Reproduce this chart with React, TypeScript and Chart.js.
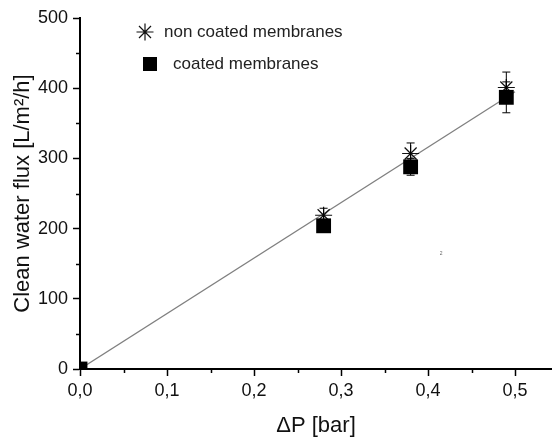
import React, { useEffect, useRef } from 'react';
import { Chart, registerables } from 'chart.js';
Chart.register(...registerables);

// Data (ΔP in bar, flux in L/m²/h)
const nonCoatedPressure = [0.28, 0.38, 0.49];
const nonCoatedFlux = [219, 307, 401];
const nonCoatedErr = [10, 15, 22];

const coatedPressure = [0, 0.28, 0.38, 0.49];
const coatedFlux = [0, 204, 288, 387];
const coatedErr = [0, 5, 12, 22];

const fitPressure = [0, 0.5];
const fitFlux = [0, 395];

const legendLabels = ['non coated membranes', 'coated membranes'];
const xTitle = 'ΔP [bar]';
const yTitle = 'Clean water flux [L/m²/h]';
const strayMark = { x: 0.415, y: 165, text: '2' };

const FONT = "'Liberation Sans', Arial, sans-serif";

function drawAsterisk(ctx: CanvasRenderingContext2D, x: number, y: number, r: number) {
  ctx.beginPath();
  for (let i = 0; i < 4; i++) {
    const a = (i * Math.PI) / 4;
    ctx.moveTo(x - Math.cos(a) * r, y - Math.sin(a) * r);
    ctx.lineTo(x + Math.cos(a) * r, y + Math.sin(a) * r);
  }
  ctx.stroke();
}

const extrasPlugin = {
  id: 'extras',
  afterDatasetsDraw(chart: any) {
    const ctx = chart.ctx as CanvasRenderingContext2D;
    const yScale = chart.scales.y;
    ctx.save();
    ctx.strokeStyle = '#000';
    ctx.lineWidth = 1;
    chart.data.datasets.forEach((ds: any, i: number) => {
      if (!ds.errors) return;
      const meta = chart.getDatasetMeta(i);
      meta.data.forEach((pt: any, j: number) => {
        const e = ds.errors[j];
        if (!e) return;
        const v = ds.data[j].y;
        const yt = yScale.getPixelForValue(v + e);
        const yb = yScale.getPixelForValue(v - e);
        ctx.beginPath();
        ctx.moveTo(pt.x, yt);
        ctx.lineTo(pt.x, yb);
        ctx.moveTo(pt.x - 4, yt);
        ctx.lineTo(pt.x + 4, yt);
        ctx.moveTo(pt.x - 4, yb);
        ctx.lineTo(pt.x + 4, yb);
        ctx.stroke();
      });
    });
    ctx.restore();
  },
  afterDraw(chart: any) {
    const ctx = chart.ctx as CanvasRenderingContext2D;
    const { x: xs, y: ys } = chart.scales;
    const area = chart.chartArea;
    ctx.save();
    // minor ticks
    ctx.strokeStyle = '#000';
    ctx.lineWidth = 1.5;
    xs.ticks.forEach((t: any) => {
      if (Math.round(t.value * 100) % 10 !== 0) {
        const px = Math.round(xs.getPixelForValue(t.value)) + 0.5;
        ctx.beginPath();
        ctx.moveTo(px, area.bottom);
        ctx.lineTo(px, area.bottom + 4);
        ctx.stroke();
      }
    });
    ys.ticks.forEach((t: any) => {
      if (Math.round(t.value) % 100 !== 0) {
        const py = Math.round(ys.getPixelForValue(t.value)) + 0.5;
        ctx.beginPath();
        ctx.moveTo(area.left - 4, py);
        ctx.lineTo(area.left, py);
        ctx.stroke();
      }
    });
    // legend
    ctx.lineWidth = 1.2;
    ctx.strokeStyle = '#111';
    drawAsterisk(ctx, 145, 32, 8.5);
    ctx.fillStyle = '#000';
    ctx.fillRect(143, 57, 14, 14);
    ctx.fillStyle = '#222';
    ctx.font = `17px ${FONT}`;
    ctx.textBaseline = 'middle';
    ctx.textAlign = 'left';
    ctx.fillText(legendLabels[0], 164, 32);
    ctx.fillText(legendLabels[1], 173, 64);
    // stray tiny mark
    ctx.font = `5px ${FONT}`;
    ctx.fillStyle = '#666';
    ctx.textAlign = 'center';
    ctx.fillText(strayMark.text, xs.getPixelForValue(strayMark.x), ys.getPixelForValue(strayMark.y));
    ctx.restore();
  },
};

export default function App() {
  const ref = useRef<HTMLCanvasElement | null>(null);
  useEffect(() => {
    if (!ref.current) return;
    Chart.defaults.font.family = FONT;
    const chart = new Chart(ref.current, {
      type: 'scatter',
      data: {
        datasets: [
          {
            type: 'line',
            label: 'fit',
            data: fitPressure.map((x, i) => ({ x, y: fitFlux[i] })),
            borderColor: '#808080',
            borderWidth: 1.3,
            pointRadius: 0,
            fill: false,
            order: 3,
          } as any,
          {
            label: legendLabels[0],
            data: nonCoatedPressure.map((x, i) => ({ x, y: nonCoatedFlux[i] })),
            errors: nonCoatedErr,
            pointStyle: 'star',
            pointRadius: 8.5,
            borderColor: '#111',
            backgroundColor: '#111',
            pointBorderWidth: 1.2,
            order: 2,
          } as any,
          {
            label: legendLabels[1],
            data: coatedPressure.map((x, i) => ({ x, y: coatedFlux[i] })),
            errors: coatedErr,
            pointStyle: 'rect',
            pointRadius: 10.5,
            borderColor: '#000',
            backgroundColor: '#000',
            pointBorderWidth: 0,
            clip: 0,
            order: 1,
          } as any,
        ],
      },
      options: {
        animation: false,
        responsive: false,
        devicePixelRatio: 1,
        layout: { autoPadding: false, padding: { top: 18, right: 0, left: 0, bottom: 0 } },
        plugins: { legend: { display: false }, tooltip: { enabled: false } },
        scales: {
          x: {
            type: 'linear',
            min: 0,
            max: 0.5425,
            afterFit: (s: any) => { s.height = 73; s.paddingLeft = 0; s.paddingRight = 0; },
            border: { color: '#000', width: 2 },
            grid: {
              drawOnChartArea: false,
              drawTicks: true,
              tickLength: 7,
              tickColor: '#000',
              tickWidth: (c: any) => (Math.round(c.tick.value * 100) % 10 === 0 ? 1.5 : 0),
            },
            ticks: {
              stepSize: 0.05,
              includeBounds: false,
              autoSkip: false,
              maxRotation: 0,
              padding: 4,
              color: '#111',
              font: { size: 18 },
              callback: (v: any) => (Math.round(v * 100) % 10 === 0 ? Number(v).toFixed(1).replace('.', ',') : ''),
            },
            title: {
              display: true,
              text: xTitle,
              color: '#111',
              font: { size: 22 },
              padding: { top: 0, bottom: 3 },
            },
          },
          y: {
            type: 'linear',
            min: 0,
            max: 500,
            afterFit: (s: any) => { s.width = 80; s.paddingTop = 0; s.paddingBottom = 0; },
            border: { color: '#000', width: 2 },
            grid: {
              drawOnChartArea: false,
              drawTicks: true,
              tickLength: 7,
              tickColor: '#000',
              tickWidth: (c: any) => (Math.round(c.tick.value) % 100 === 0 ? 1.5 : 0),
            },
            ticks: {
              stepSize: 50,
              autoSkip: false,
              padding: 5,
              color: '#111',
              font: { size: 18 },
              callback: (v: any) => (Math.round(v) % 100 === 0 ? String(v) : ''),
            },
            title: {
              display: true,
              text: yTitle,
              color: '#111',
              font: { size: 22 },
              padding: { top: 10, bottom: 0 },
            },
          },
        },
      },
      plugins: [extrasPlugin],
    });
    return () => chart.destroy();
  }, []);
  return (
    <div style={{ position: 'absolute', left: 0, top: 0, width: 552, height: 442, background: '#fff' }}>
      <canvas ref={ref} width={552} height={442} />
    </div>
  );
}
